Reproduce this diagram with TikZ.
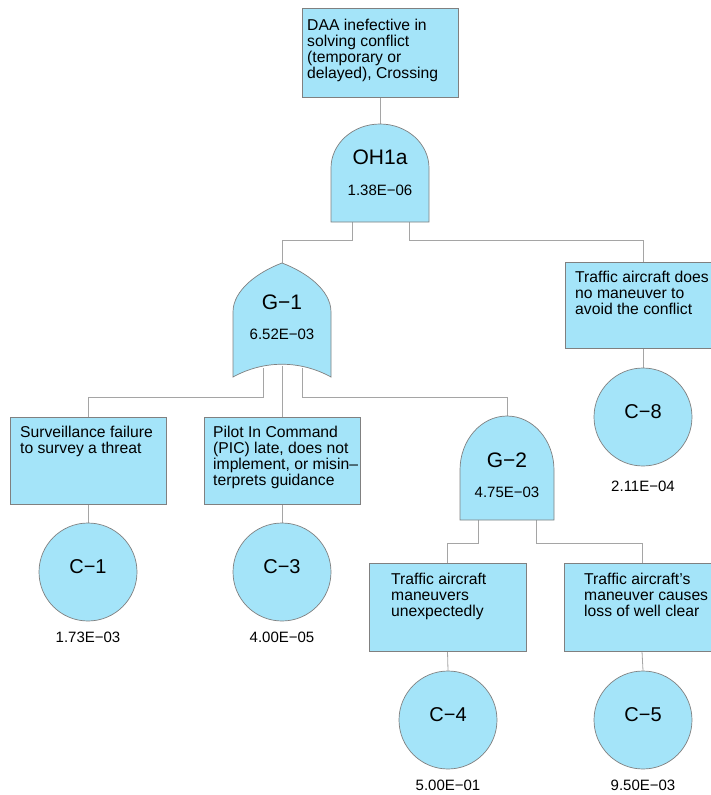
\documentclass[tikz,border=0pt]{standalone}
\usepackage{fontspec}
\setmainfont{Liberation Sans}
\usetikzlibrary{backgrounds}
\definecolor{gatefill}{RGB}{164,228,249}
\definecolor{edgegray}{RGB}{128,128,128}
\definecolor{linkgray}{RGB}{165,165,165}
\begin{document}
\begin{tikzpicture}[x=1pt,y=-1pt,
 evbox/.style={draw=edgegray,fill=gatefill,line width=0.7pt,minimum width=156pt,minimum height=87pt,inner sep=0pt},
 evtext/.style={anchor=north west,inner sep=0pt,align=left,font=\fontsize{15.7}{16}\selectfont},
 basic/.style={circle,draw=edgegray,fill=gatefill,line width=0.7pt,minimum size=98pt,inner sep=0pt,text depth=10pt,font=\fontsize{20}{24}\selectfont},
 gatelabel/.style={font=\fontsize{21}{24}\selectfont,inner sep=0pt},
 prob/.style={font=\fontsize{15}{18}\selectfont,inner sep=0pt},
 link/.style={draw=linkgray,line width=0.8pt},
 gate/.style={draw=edgegray,fill=gatefill,line width=0.7pt}]
\useasboundingbox (0,0) rectangle (710,795);

% event boxes
\node[evbox,minimum height=89pt] (top) at (380,52.5) {};
\node[evtext] (toptext) at (307,19) {DAA inefective in\\solving conflict\\(temporary or\\delayed), Crossing};

\node[evbox] (surv) at (88,460.5) {};
\node[evtext] (survtext) at (20,426) {Surveillance failure\\to survey a threat};

\node[evbox] (pic) at (282,460.5) {};
\node[evtext] (pictext) at (213,426) {Pilot In Command\\(PIC) late, does not\\implement, or misin\textendash\\terprets guidance};

\node[evbox,minimum height=86pt] (c8box) at (643,305) {};
\node[evtext] (c8text) at (575,271) {Traffic aircraft does\\no maneuver to\\avoid the conflict};

\node[evbox,minimum height=88pt,minimum width=157pt] (tm) at (447.5,607) {};
\node[evtext] (tmtext) at (391,573) {Traffic aircraft\\maneuvers\\unexpectedly};

\node[evbox,minimum height=88pt] (ta) at (642,607) {};
\node[evtext] (tatext) at (584,573) {Traffic aircraft's\\maneuver causes\\loss of well clear};

% gates
\draw[gate] (331,222) -- (331,168) .. controls (331,143.7) and (352.9,124) .. (380,124)
  .. controls (407.1,124) and (429,143.7) .. (429,168) -- (429,222) -- cycle;
\coordinate (oh-in) at (380,124);
\coordinate (oh-outL) at (352,221);
\coordinate (oh-outR) at (409,221);
\node[gatelabel] (ohlabel) at (380,157) {OH1a};
\node[prob] (ohprob) at (380,190) {1.38E\textminus06};

\draw[gate] (233,377) -- (233,312) .. controls (233,290) and (258,272) .. (282,263)
  .. controls (306,272) and (331,290) .. (331,312) -- (331,377)
  .. controls (300,360) and (264,360) .. (233,377) -- cycle;
\coordinate (g1-in) at (282,263);
\coordinate (g1-outL) at (263,368);
\coordinate (g1-outM) at (282,366);
\coordinate (g1-outR) at (302,368);
\node[gatelabel] (g1label) at (282,302) {G\textminus1};
\node[prob] (g1prob) at (282,334) {6.52E\textminus03};

\draw[gate] (460,520) -- (460,470) .. controls (460,440.2) and (481,416) .. (507,416)
  .. controls (533,416) and (554,440.2) .. (554,470) -- (554,520) -- cycle;
\coordinate (g2-in) at (507,416);
\coordinate (g2-outL) at (478,519);
\coordinate (g2-outR) at (536,519);
\node[gatelabel] (g2label) at (507,460) {G\textminus2};
\node[prob] (g2prob) at (507,492) {4.75E\textminus03};

% basic events
\node[basic] (c1) at (88,572) {C\textminus1};
\node[prob] (p1) at (88,637) {1.73E\textminus03};
\node[basic] (c3) at (282,572) {C\textminus3};
\node[prob] (p3) at (282,637) {4.00E\textminus05};
\node[basic] (c8) at (643,417) {C\textminus8};
\node[prob] (p8) at (643,486) {2.11E\textminus04};
\node[basic] (c4) at (448,720) {C\textminus4};
\node[prob] (p4) at (448,785) {5.00E\textminus01};
\node[basic] (c5) at (643,720) {C\textminus5};
\node[prob] (p5) at (643,785) {9.50E\textminus03};

% connectors
\begin{scope}[on background layer]
\draw[link] (top.south) -- (oh-in);
\draw[link] (oh-outL) -- ++(0,19) -| (g1-in);
\draw[link] (oh-outR) -- ++(0,19) -| (c8box.north);
\draw[link] (g1-outL) -- ++(0,29) -| (surv.north);
\draw[link] (g1-outM) -- (pic.north);
\draw[link] (g1-outR) -- ++(0,29) -| (g2-in);
\draw[link] (g2-outL) -- ++(0,24) -| (tm.north);
\draw[link] (g2-outR) -- ++(0,24) -| (ta.north);
\draw[link] (surv.south) -- (c1.north);
\draw[link] (pic.south) -- (c3.north);
\draw[link] (c8box.south) -- (c8.north);
\draw[link] (tm.south) -- (c4.north);
\draw[link] (ta.south) -- (c5.north);
\end{scope}
\end{tikzpicture}
\end{document}
